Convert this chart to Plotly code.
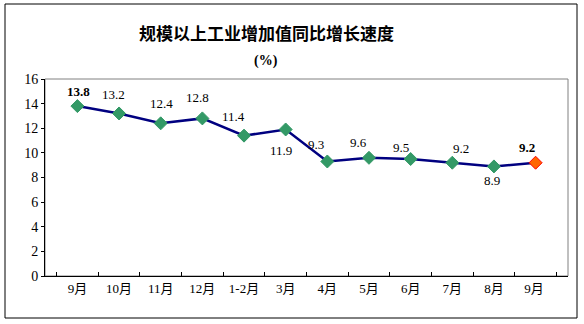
import plotly.graph_objects as go

categories = ["9月", "10月", "11月", "12月", "1-2月", "3月", "4月", "5月", "6月", "7月", "8月", "9月 "]
values = [13.8, 13.2, 12.4, 12.8, 11.4, 11.9, 9.3, 9.6, 9.5, 9.2, 8.9, 9.2]
label_text = ["13.8", "13.2", "12.4", "12.8", "11.4", "11.9", "9.3", "9.6", "9.5", "9.2", "8.9", "9.2"]
label_bold = [True, False, False, False, False, False, False, False, False, False, False, True]
label_dx = [1, -6, 1, -5, -11, -5, -11, -10, -10, 9, -2, -9]
label_dy = [15, 19, 20, 21, 19, -21, 17, 15, 12, 14, -14, 15]
y_ticks = [0, 2, 4, 6, 8, 10, 12, 14, 16]

W, H = 584, 324
ML, MR, MT, MB = 45, 16, 79, 48
PW, PH = W - ML - MR, H - MT - MB

def px_x(p):
    return (p - ML) / PW

def px_y(p):
    return (H - MB - p) / PH

marker_colors = ["#339966"] * (len(values) - 1) + ["#FF6600"]
marker_line = ["#339966"] * (len(values) - 1) + ["#FF0000"]

fig = go.Figure()
fig.add_trace(go.Scatter(
    x=categories, y=values, mode="lines+markers",
    line=dict(color="#000080", width=2.5),
    marker=dict(symbol="diamond", size=10, color=marker_colors,
                line=dict(color=marker_line, width=1)),
    hoverinfo="skip", showlegend=False,
))

annotations = []
for c, v, t, b, dx, dy in zip(categories, values, label_text, label_bold, label_dx, label_dy):
    annotations.append(dict(
        x=c, y=v, xref="x", yref="y", showarrow=False,
        xanchor="center", yanchor="middle",
        text=f"<b>{t}</b>" if b else t,
        xshift=dx, yshift=dy,
        font=dict(family="Liberation Serif, Times New Roman, serif", size=13, color="black"),
    ))

annotations.append(dict(
    x=px_x(266), y=px_y(32), xref="paper", yref="paper", showarrow=False,
    xanchor="center", yanchor="middle",
    text="<b>规模以上工业增加值同比增长速度</b>",
    font=dict(family="Noto Sans CJK SC", size=17, color="black"),
))
annotations.append(dict(
    x=px_x(266), y=px_y(61), xref="paper", yref="paper", showarrow=False,
    xanchor="center", yanchor="middle",
    text="<b>(%)</b>",
    font=dict(family="Liberation Serif, serif", size=14, color="black"),
))

shapes = [
    # outer frame
    dict(type="rect", xref="paper", yref="paper",
         x0=px_x(5), x1=px_x(577), y0=px_y(318), y1=px_y(4),
         line=dict(color="black", width=1), layer="below"),
    # plot area frame (gray)
    dict(type="rect", xref="paper", yref="paper",
         x0=0, x1=1, y0=0, y1=1,
         line=dict(color="#808080", width=1), layer="below"),
]

fig.update_layout(
    width=W, height=H,
    margin=dict(l=ML, r=MR, t=MT, b=MB),
    paper_bgcolor="white", plot_bgcolor="white",
    annotations=annotations, shapes=shapes,
    font=dict(family="Liberation Serif, Noto Sans CJK SC, serif", color="black"),
    xaxis=dict(
        type="category", showgrid=False, showline=True, linecolor="black", linewidth=1,
        ticks="inside", tickson="boundaries", ticklen=4, tickcolor="black",
        tickfont=dict(family="Liberation Serif, Noto Sans CJK SC, serif", size=13),
        zeroline=False, fixedrange=True,
    ),
    yaxis=dict(
        range=[0, 16], tickvals=y_ticks, showgrid=False, showline=True,
        linecolor="black", linewidth=1, ticks="outside", ticklen=3, tickcolor="black",
        tickfont=dict(family="Liberation Serif, serif", size=14),
        zeroline=False, fixedrange=True,
    ),
)

fig.write_html("out.html", config={"displayModeBar": False})
